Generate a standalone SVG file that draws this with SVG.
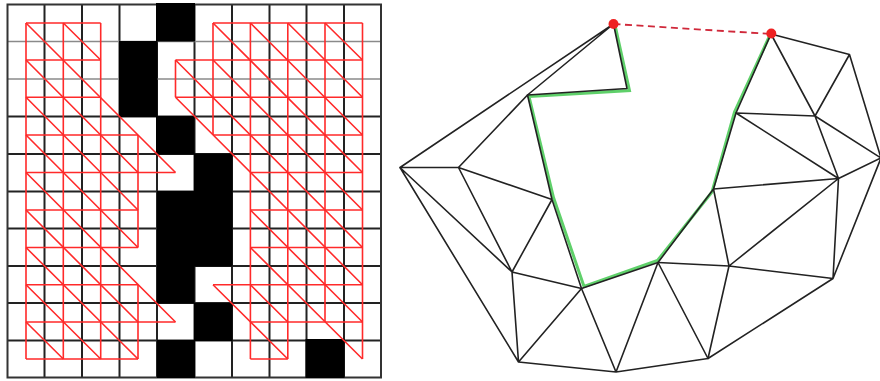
<svg xmlns="http://www.w3.org/2000/svg" width="880" height="381" viewBox="0 0 880 381">
<style>
.dark{stroke:#222;stroke-width:2;fill:none}
.thin{stroke:#8a8a8a;stroke-width:1.6;fill:none}
.red{stroke:#ff2a2a;stroke-width:1.6;fill:none;stroke-linejoin:round}
.edge{stroke:#222;stroke-width:1.6;fill:none;stroke-linejoin:round}
.green{stroke:#5fd06a;stroke-width:3;fill:none;stroke-linejoin:miter}
.dash{stroke:#d0283a;stroke-width:1.8;stroke-dasharray:7 4.5;fill:none}
.dot{fill:#ee2222}
</style>
<rect width="880" height="381" fill="#fff"/>
<g id="grid-lines">
<path class="dark" d="M44.5 5V377M82 5V377M119.5 5V377M157 5V377M194.5 5V377M232 5V377M269.5 5V377M306.5 5V377M344 5V377"/>
<path class="thin" d="M8 41.5H381M8 79H381"/>
<path class="dark" d="M8 116.5H381M8 154H381M8 191.5H381M8 228.5H381M8 266H381M8 303H381M8 340.5H381"/>
<rect x="7.5" y="4.5" width="373.5" height="373" fill="none" stroke="#333" stroke-width="2"/>
</g>
<g id="blocked-cells" fill="#000">
<rect x="156" y="3" width="39" height="38.5"/>
<rect x="119" y="41" width="38.500" height="76"/>
<rect x="156" y="116" width="38.500" height="38.500"/>
<rect x="194" y="153.500" width="38.500" height="38.500"/>
<rect x="157" y="191" width="75.500" height="75.500"/>
<rect x="157" y="266" width="37.500" height="37.500"/>
<rect x="194" y="303" width="38.500" height="38"/>
<rect x="157" y="340" width="38" height="38"/>
<rect x="305.500" y="339" width="39" height="39"/>
</g>
<g id="left-triangulation">
<path class="red" d="M26 23H100.700M26 60H100.700M26 97.300H100.700M26 135H138M26 172.500H175.500M26 210H138M26 247.500H138M26 284.700H138M26 322H175.500M26 359H138"/>
<path class="red" d="M26 23V359M63.300 23V359M100.700 23V359M138 135V247.500M138 284.700V359"/>
<path class="red" d="M26 23L175.500 172.500M63.300 23L100.700 60M26 60L138 172.500M26 97.300L138 210M26 135L138 247.500M26 172.500L175.500 322M26 210L138 322M26 247.500L138 359M26 284.700L100.700 359M26 322L63.300 359"/>
</g>
<g id="right-triangulation">
<path class="red" d="M213 23H362.500M175.500 60H362.500M175.500 97.300H362.500M213 135H362.500M250.400 172.500H362.500M250.400 210H362.500M250.400 247.500H362.500M213 284.700H362.500M250.400 322H362.500M250.400 359H287.800"/>
<path class="red" d="M175.500 60V97.300M213 23V135M250.400 23V359M287.800 23V359M325 23V322M362.500 23V359"/>
<path class="red" d="M325 23L362.500 60M287.800 23L362.500 97.300M250.400 23L362.500 135M213 23L362.500 172.500M213 60L362.500 210M175.500 60L362.500 247.500M175.500 97.300L362.500 284.700M250.400 210L362.500 322M250.400 247.500L362.500 359M213 284.700L287.800 359M250.400 284.700L287.800 322"/>
</g>
<g id="connectors">
<path class="green" d="M615 25L629.500 90.500L529 96.500L553.500 197.500L584 286.500L657.500 260.500L712 192L734.500 112L770 35"/>
<path class="edge" d="M613.500 24L627 88.500L527.500 95L552 199.500L581.500 288.500L658 262.500L713.500 189L736 113L771 34"/>
<path class="edge" d="M613.500 24L400 167.500L458.500 167.500L527.500 95L613.500 24"/>
<path class="edge" d="M400 167.500L512 272L458.500 167.500L552 199.500M400 167.500L518.500 362L512 272L552 199.500M512 272L581.500 288.500L518.500 362L616 372L581.500 288.500M616 372L658 262.500L708 358.500L616 372"/>
<path class="edge" d="M658 262.500L729 266L708 358.500L833 278.500L729 266L713.500 189M729 266L838.500 178.500L833 278.500L881 158M713.500 189L838.500 178.500L736 113L815 116L838.500 178.500L881 158L849.500 54.500L771 34L815 116L849.500 54.500M815 116L881 158"/>
<path class="dash" d="M613.500 24L771 34"/>
</g>
<g id="node-start"><circle class="dot" cx="613.500" cy="24" r="5"/></g>
<g id="node-end"><circle class="dot" cx="771.300" cy="33.500" r="5"/></g>
</svg>
